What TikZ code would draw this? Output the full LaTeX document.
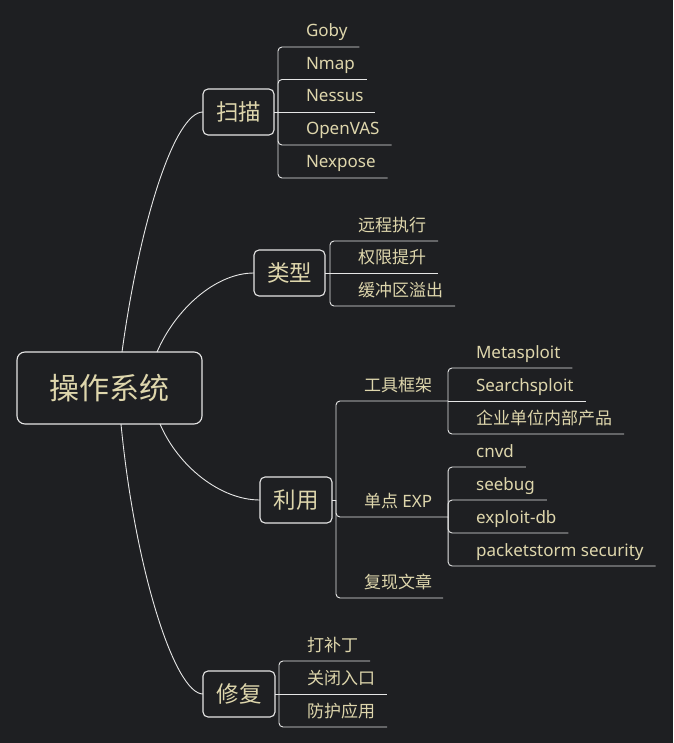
\documentclass[tikz,border=0pt]{standalone}
\usepackage{fontspec}
\setmainfont{Noto Sans}
\newfontfamily\cjk{Noto Sans CJK SC}
\usetikzlibrary{calc}
\definecolor{bg}{RGB}{30,31,34}
\definecolor{tx}{RGB}{222,214,172}
\definecolor{ln}{RGB}{230,230,230}
\begin{document}
\begin{tikzpicture}[x=1pt,y=-1pt,
  box/.style={draw=ln, line width=1.1pt, rounded corners=5pt, inner sep=0pt, outer sep=0pt,
    text=tx, font=\cjk\fontsize{22.5}{26}\selectfont, minimum width=71pt, minimum height=46pt},
  leaf/.style={anchor=south west, inner xsep=0pt, inner ysep=10pt, text depth=0pt, outer sep=0pt,
    text=tx, font=\fontsize{17}{20}\selectfont,
    execute at begin node={\hspace*{28pt}}, execute at end node={\hspace*{#1}}},
  leaf/.default=12pt,
  link/.style={draw=ln, line width=0.9pt, rounded corners=4pt},
  wire/.style={draw=ln, line width=0.9pt}]
\fill[bg] (0,0) rectangle (673,743);
\useasboundingbox (0,0) rectangle (673,743);

% main nodes
\node[box, minimum width=185pt, minimum height=72pt, rounded corners=8pt,
  font=\cjk\fontsize{30}{34}\selectfont] (os) at (109.5,388) {操作系统};
\node[box] (sm) at (238.5,112) {扫描};
\node[box] (lx) at (289.5,273) {类型};
\node[box, minimum width=72pt] (ly) at (296,500) {利用};
\node[box, minimum width=72pt] (xf) at (239,694) {修复};

% curves from the root
\draw[wire] ($(os.north west)+(105,0)$) .. controls (140,220) and (175,112) .. (sm.west);
\draw[wire] ($(os.north west)+(140,0)$) .. controls (175,310) and (215,273) .. (lx.west);
\draw[wire] ($(os.south west)+(143,0)$) .. controls (178,466) and (220,500) .. (ly.west);
\draw[wire] ($(os.south west)+(104,0)$) .. controls (135,570) and (175,694) .. (xf.west);

% 扫描
\node[leaf] (goby) at (278,47) {Goby};
\node[leaf] (nmap) at (278,79.5) {Nmap};
\node[leaf] (nes) at (278,112) {Nessus};
\node[leaf] (opv) at (278,145) {OpenVAS};
\node[leaf] (nex) at (278,178) {Nexpose};
\draw[wire] (sm.east) -- (nes.south east);
\foreach \c in {goby,nmap,opv,nex}
  \draw[link] (sm.east -| \c.south west) |- (\c.south east);

% 类型
\node[leaf] (yc) at (330,241) {\cjk 远程执行};
\node[leaf] (qx) at (330,273) {\cjk 权限提升};
\node[leaf] (hc) at (330,306) {\cjk 缓冲区溢出};
\draw[wire] (lx.east) -- (qx.south east);
\foreach \c in {yc,hc}
  \draw[link] (lx.east -| \c.south west) |- (\c.south east);

% 利用
\node[leaf=16pt] (gj) at (336,401) {\cjk 工具框架};
\node[leaf=16pt] (dd) at (336,517) {{\cjk 单点} EXP};
\node[leaf=11pt] (fx) at (336,598) {\cjk 复现文章};
\draw[wire] (ly.east) -- (ly.east -| gj.south west);
\foreach \c in {gj,dd,fx}
  \draw[link] (ly.east -| \c.south west) |- (\c.south east);

\node[leaf] (ms) at ($(gj.south east)+(0,-33)$) {Metasploit};
\node[leaf] (ss) at (gj.south east) {Searchsploit};
\node[leaf] (qy) at ($(gj.south east)+(0,33)$) {\cjk 企业单位内部产品};
\draw[wire] (gj.south east) -- (ss.south east);
\foreach \c in {ms,qy}
  \draw[link] (gj.south east) |- (\c.south east);

\node[leaf] (cnvd) at ($(dd.south east)+(0,-50)$) {cnvd};
\node[leaf] (sb) at ($(dd.south east)+(0,-17)$) {seebug};
\node[leaf] (ed) at ($(dd.south east)+(0,16)$) {exploit-db};
\node[leaf] (ps) at ($(dd.south east)+(0,49)$) {packetstorm security};
\foreach \c in {cnvd,sb,ed,ps}
  \draw[link] (dd.south east) |- (\c.south east);

% 修复
\node[leaf] (dbd) at (279,661) {\cjk 打补丁};
\node[leaf] (gb) at (279,694) {\cjk 关闭入口};
\node[leaf] (fh) at (279,727) {\cjk 防护应用};
\draw[wire] (xf.east) -- (gb.south east);
\foreach \c in {dbd,fh}
  \draw[link] (xf.east -| \c.south west) |- (\c.south east);
\end{tikzpicture}
\end{document}
